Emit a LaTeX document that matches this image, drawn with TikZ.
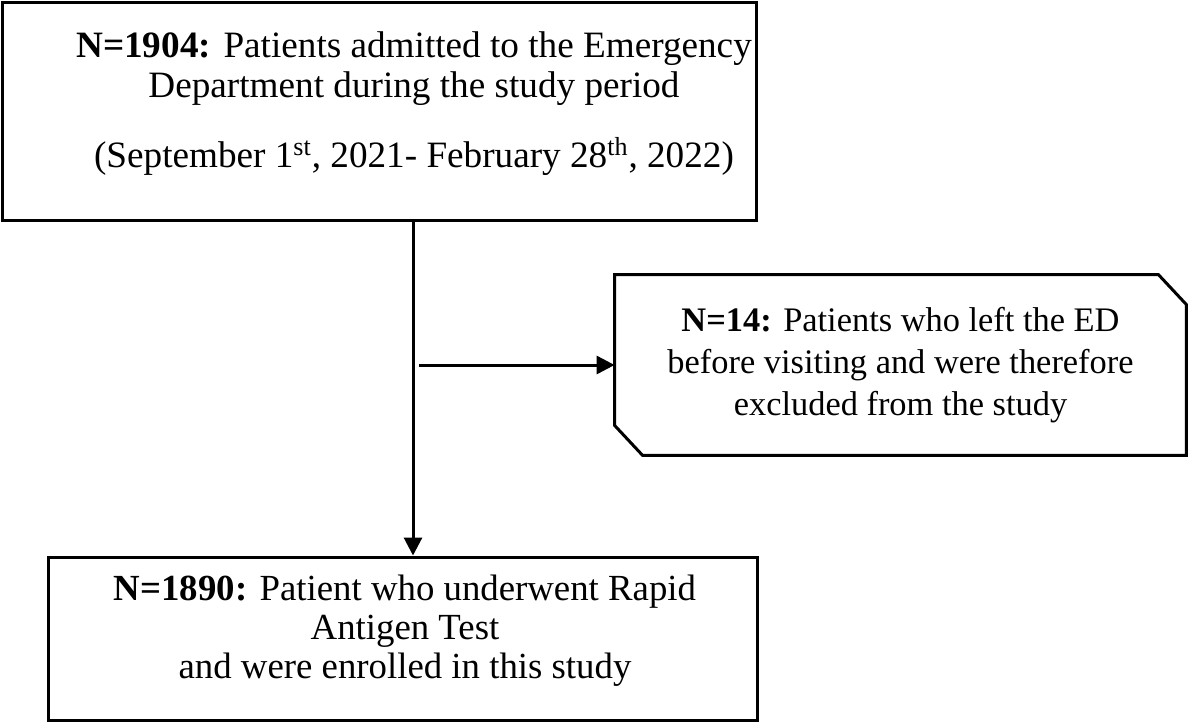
\documentclass[tikz,border=0pt]{standalone}
\usepackage{fontspec}
\setmainfont{Liberation Serif}
\usetikzlibrary{arrows.meta}
\tikzset{
    framebox/.style={draw=black, line width=1.5pt, inner sep=0pt},
    boxtext/.style={align=center, inner sep=0pt, font=\fontsize{18.6}{20}\selectfont},
    flowarrow/.style={draw=black, line width=1.5pt, -{Triangle[length=9pt, width=9pt]}}
}
\begin{document}
\begin{tikzpicture}[x=0.5pt, y=-0.5pt]
    \useasboundingbox (0,0) rectangle (1192,724);
    \node[framebox, minimum width=377pt, minimum height=109pt] (admitted) at (379,111) {};
    \node[boxtext] (admittedtext) at (414,104) {\textbf{N=1904:} Patients admitted to the Emergency\\
        Department during the study period\\[15pt]
        (September 1\textsuperscript{st}, 2021- February 28\textsuperscript{th}, 2022)};
    \node[framebox, minimum width=354.5pt, minimum height=81.5pt] (enrolled) at (402.5,638.5) {};
    \node[boxtext, font=\fontsize{18.4}{19.5}\selectfont] (enrolledtext) at (405,631) {\textbf{N=1890:} Patient who underwent Rapid\\
        Antigen Test\\
        and were enrolled in this study};
    \node[boxtext, font=\fontsize{17.2}{21}\selectfont, minimum width=285.5pt, minimum height=90pt] (excluded) at (900.5,365) {\textbf{N=14:} Patients who left the ED\\
        before visiting and were therefore\\
        excluded from the study};
    \draw[black, line width=1.5pt] (excluded.north west) -- ([xshift=-14pt]excluded.north east)
        -- ([yshift=-15pt]excluded.north east) -- (excluded.south east)
        -- ([xshift=14pt]excluded.south west) -- ([yshift=15pt]excluded.south west) -- cycle;
    \coordinate (split) at (413,365);
    \coordinate (branch) at (419,365);
    \draw[flowarrow] (admitted.south -| split) -- (enrolled.north -| split);
    \draw[flowarrow] (branch) -- (excluded.west);
\end{tikzpicture}
\end{document}
